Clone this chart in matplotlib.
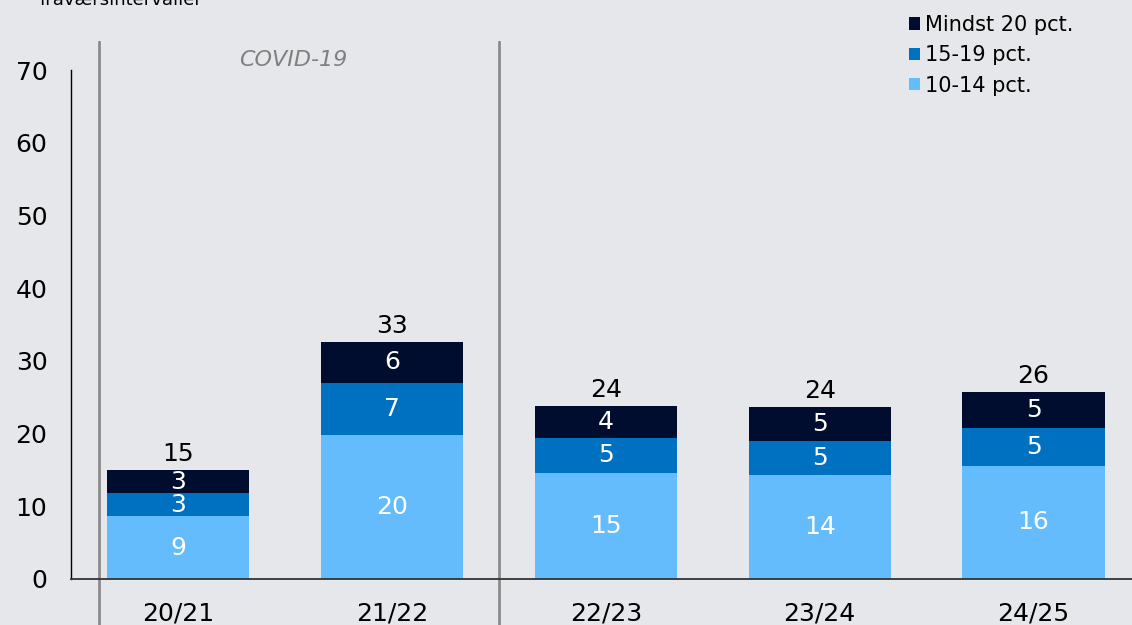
import matplotlib
matplotlib.use("Agg")
import matplotlib.pyplot as plt
import numpy as np

plt.rcParams['font.family'] = ['DejaVu Sans']

years = ['20/21', '21/22', '22/23', '23/24', '24/25']
low = [8.6, 19.8, 14.6, 14.3, 15.6]    # 10-14 pct.
mid = [3.2, 7.2, 4.8, 4.7, 5.1]        # 15-19 pct.
high = [3.2, 5.6, 4.4, 4.6, 5.0]       # Mindst 20 pct.
series_names = ['10-14 pct.', '15-19 pct.', 'Mindst 20 pct.']
colors = ['#64bcfd', '#0070c0', '#000d2e']
bg = '#e6e7eb'

fig = plt.figure(figsize=(11.32, 6.25), dpi=100, facecolor=bg)
ax = fig.add_axes([71/1132, 1-579/625, 1-71/1132, (579-70)/625])
ax.set_facecolor(bg)

x = np.arange(len(years))
w = 0.665
bottom = np.zeros(len(years))
bars = []
for vals, c in zip([low, mid, high], colors):
    b = ax.bar(x, vals, w, bottom=bottom, color=c, edgecolor='none', zorder=2)
    bars.append(b)
    for xi, v, b0 in zip(x, vals, bottom):
        ax.text(xi, b0 + v/2, f"{v:.0f}", ha='center', va='center',
                color='white', fontsize=18, zorder=3)
    bottom = bottom + np.array(vals)

for xi, t in zip(x, bottom):
    ax.annotate(f"{t:.0f}", (xi, t), xytext=(0, 3), textcoords='offset points',
                ha='center', va='bottom', fontsize=18, color='black')

ax.set_xlim(-0.5, 4.46)
ax.set_ylim(0, 70)
ax.set_yticks(range(0, 71, 10))
ax.set_xticks(x)
ax.set_xticklabels(years)
ax.tick_params(axis='y', length=0, pad=17, labelsize=18)
ax.tick_params(axis='x', length=0, pad=16, labelsize=18)

for s in ['top', 'right']:
    ax.spines[s].set_visible(False)
ax.spines['left'].set_color('black')
ax.spines['left'].set_linewidth(1.0)
ax.spines['bottom'].set_color('#333333')
ax.spines['bottom'].set_linewidth(1.3)

# COVID-19 period separators
for xs in [-0.37, 1.5]:
    ax.plot([xs, xs], [-7, 73.9], color='#8c8c8c', lw=2, clip_on=False, zorder=1)
ax.text(0.54, 71.4, 'COVID-19', ha='center', va='center', fontsize=16,
        style='italic', color='#7f7f7f')

fig.text(40/1132, 1-5/625, 'fraværsintervaller', ha='left', va='baseline',
         fontsize=13, color='black')

handles = [bars[2], bars[1], bars[0]]
labels = [series_names[2], series_names[1], series_names[0]]
leg = fig.legend(handles, labels, loc='upper left', bbox_to_anchor=(890/1132, 1+4/625),
                 frameon=False, fontsize=15, handlelength=0.55, handleheight=0.55,
                 handletextpad=0.25, labelspacing=0.5)

fig.savefig('out.png', dpi=100, facecolor=bg)
